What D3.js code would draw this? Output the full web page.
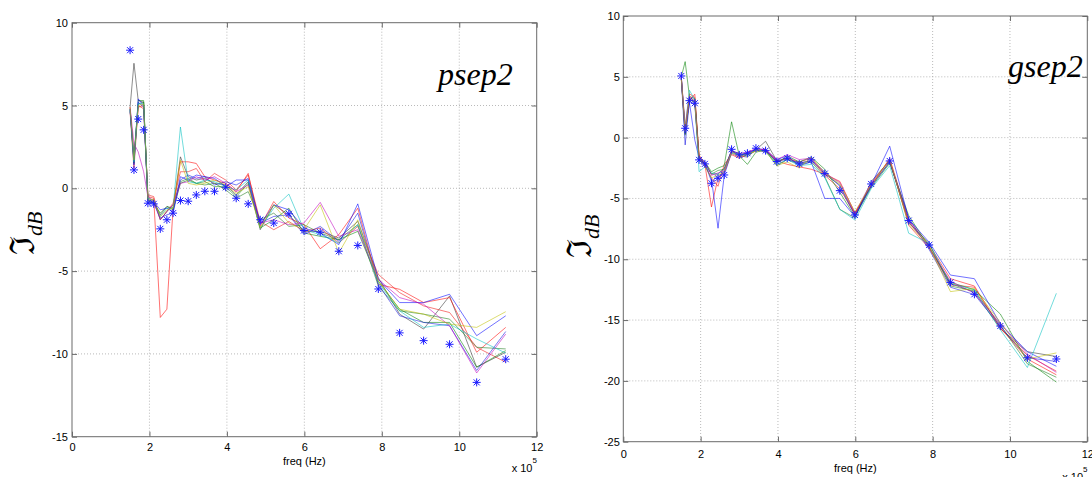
<!DOCTYPE html>
<html><head><meta charset="utf-8">
<script src="https://cdn.jsdelivr.net/npm/d3@7"></script>
<style>body{margin:0;background:#fff} svg{display:block}</style>
</head><body><svg id="c" width="1092" height="477"></svg>
<script>
// frequency (x 1e5 Hz)
const freq = [1.5, 1.6, 1.71, 1.85, 1.96, 2.11, 2.28, 2.45, 2.61, 2.8, 3.0, 3.21, 3.43, 3.68, 3.97, 4.24, 4.55, 4.86, 5.21, 5.6, 5.99, 6.41, 6.89, 7.38, 7.91, 8.46, 9.08, 9.75, 10.45, 11.2];
const xTicks = [0, 2, 4, 6, 8, 10, 12];
const psepTicks = [-15, -10, -5, 0, 5, 10];
const gsepTicks = [-25, -20, -15, -10, -5, 0, 5, 10];
const seriesNames = ["k", "r", "r2", "g", "g2", "b", "b2", "c", "m", "y"];

// psep2 measured (stars)
const psepStars = [8.34, 1.11, 4.18, 3.53, -0.90, -0.94, -2.45, -1.9, -1.5, -0.74, -0.78, -0.40, -0.18, -0.18, 0.06, -0.6, -0.94, -1.9, -2.1, -1.54, -2.55, -2.65, -3.8, -3.45, -6.08, -8.73, -9.2, -9.42, -11.72, -10.32];
// psep2 simulated curves
const psepK  = [4.9, 7.55, 5.3, 5.2, -0.7, -0.8, -1.6, -1.1, -1.2, 1.9, 0.7, 0.5, 0.6, 0.3, 0.2, -0.4, 0.4, -2.5, -1.0, -1.6, -2.6, -2.6, -3.0, -2.0, -5.4, -7.6, -8.5, -6.5, -10.8, -9.9];
const psepR  = [4.9, 1.8, 4.9, 5.0, -0.5, -0.6, -7.8, -7.3, -1.2, 1.6, 1.6, 1.5, 0.7, 0.5, 0.3, -0.2, 0.9, -2.3, -0.8, -1.8, -2.2, -3.65, -2.8, -1.2, -5.8, -6.1, -6.9, -6.6, -9.9, -8.4];
const psepR2 = [4.6, 1.2, 5.0, 4.8, -0.4, -0.5, -1.9, -1.4, -0.9, 1.0, 1.0, 1.2, 0.4, 0.9, 0.5, -0.1, 0.8, -2.0, -2.5, -2.0, -2.6, -2.4, -3.3, -2.3, -5.2, -6.3, -7.1, -7.5, -9.6, -10.5];
const psepG  = [4.8, 1.5, 5.3, 5.3, -0.8, -0.9, -1.5, -1.1, -1.3, 0.3, 0.5, 0.3, 0.4, 0.1, 0.1, -0.5, 0.3, -2.4, -1.9, -1.2, -2.7, -2.9, -3.1, -2.6, -5.6, -7.3, -8.1, -8.1, -10.8, -9.8];
const psepG2 = [4.7, 2.0, 5.1, 5.2, -0.6, -0.7, -1.9, -1.4, -1.0, 0.4, 0.6, 0.3, 0.2, 0.3, -0.1, -0.6, -0.2, -1.9, -1.5, -2.3, -2.2, -2.7, -3.1, -2.2, -5.9, -7.4, -7.6, -7.9, -9.6, -9.7];
const psepB  = [4.8, 1.4, 5.4, 5.0, -0.9, -0.8, -1.3, -1.2, -1.4, 0.7, 0.5, 0.8, 0.7, 0.6, 0.1, 0.5, 0.5, -2.2, -1.0, -1.3, -2.4, -2.7, -3.4, -0.94, -5.5, -6.9, -6.9, -6.4, -8.9, -7.7];
const psepB2 = [4.7, 1.7, 5.2, 4.9, -0.7, -0.9, -1.8, -1.6, -1.5, 0.5, 0.8, 0.6, 0.7, 0.2, 0.4, 0.2, 0.6, -2.1, -1.7, -1.6, -2.8, -2.3, -3.2, -1.5, -5.8, -7.7, -8.1, -8.3, -11.0, -8.65];
const psepC  = [4.8, 1.6, 5.1, 5.1, -0.6, -0.8, -1.7, -1.2, -1.2, 3.7, 0.4, 0.3, 0.5, 0.4, 0.1, -0.1, 0.5, -2.4, -1.2, -0.35, -2.5, -2.8, -3.3, -2.2, -5.7, -7.4, -8.4, -8.2, -9.1, -9.95];
const psepM  = [4.9, 2.7, 2.2, 1.0, -0.5, -0.8, -1.9, -1.4, -1.0, 0.3, 0.4, 0.7, 0.5, 0.7, 0.3, -0.2, 0.2, -2.1, -1.9, -2.2, -2.1, -0.85, -2.9, -2.5, -5.5, -6.6, -7.0, -8.3, -11.15, -8.8];
const psepY  = [4.9, 1.7, 5.0, 5.1, -0.7, -0.7, -1.7, -1.3, -1.2, 1.7, 0.3, 0.2, 0.3, 0.5, 0.2, -0.3, 0.1, -2.4, -1.0, -2.1, -2.5, -1.0, -3.9, -1.9, -5.6, -7.3, -7.6, -8.2, -8.4, -7.45];

// gsep2 measured (stars)
const gsepStars = [5.07, 0.77, 3.04, 2.83, -1.83, -2.16, -3.75, -3.34, -3.07, -0.96, -1.42, -1.28, -0.87, -1.07, -1.97, -1.70, -2.16, -1.83, -2.96, -4.36, -6.36, -3.81, -1.92, -6.82, -8.83, -11.9, -12.88, -15.49, -18.1, -18.2];
// gsep2 simulated curves
const gsepK  = [4.9, 0.3, 3.3, 3.0, -1.8, -2.0, -3.0, -3.0, -2.5, -1.1, -1.5, -1.6, -1.0, -0.3, -1.9, -1.7, -2.1, -1.9, -3.0, -3.9, -6.3, -3.9, -2.0, -6.9, -9.0, -12.0, -12.7, -15.7, -17.6, -18.0];
const gsepR  = [4.8, 0.6, 3.1, 3.57, -1.8, -2.2, -5.7, -3.3, -2.9, -1.3, -1.6, -1.2, -1.0, -1.1, -1.9, -2.2, -2.4, -2.6, -3.0, -3.6, -6.2, -4.0, -1.7, -6.8, -8.8, -11.6, -12.2, -15.6, -18.2, -19.5];
const gsepR2 = [5.0, 0.9, 3.6, 3.3, -1.4, -2.3, -3.3, -4.0, -2.2, -1.4, -1.7, -1.4, -1.1, -0.9, -2.0, -1.7, -2.0, -1.7, -3.1, -4.2, -6.3, -3.8, -1.8, -7.2, -9.1, -12.1, -12.3, -15.7, -17.9, -19.2];
const gsepG  = [5.0, 6.25, 3.4, 3.2, -1.6, -2.0, -2.8, -2.5, -2.3, 1.3, -1.5, -2.2, -1.2, -1.0, -2.1, -1.5, -2.0, -1.6, -2.6, -4.5, -6.5, -4.1, -2.1, -6.4, -9.0, -11.9, -12.5, -14.5, -18.4, -20.1];
const gsepG2 = [4.9, 0.2, 3.2, 2.9, -1.9, -2.1, -3.0, -2.7, -2.6, -1.1, -1.3, -1.4, -1.0, -1.1, -2.3, -1.8, -2.2, -2.0, -3.2, -5.9, -6.6, -3.6, -1.9, -7.0, -8.7, -12.2, -12.6, -15.4, -18.6, -19.7];
const gsepB  = [5.0, 0.4, 2.9, -0.2, -1.7, -2.2, -3.4, -7.45, -3.1, -1.2, -1.4, -1.3, -0.9, -1.0, -1.8, -1.5, -2.3, -2.0, -5.0, -5.0, -6.5, -3.9, -0.7, -6.7, -8.6, -11.3, -11.6, -15.3, -17.6, -18.8];
const gsepB2 = [4.9, -0.6, 3.0, 2.7, -1.9, -2.1, -3.6, -3.2, -2.8, -1.0, -1.5, -1.3, -1.0, -1.2, -1.9, -1.8, -2.1, -1.9, -2.8, -4.0, -6.4, -4.0, -2.0, -6.6, -9.2, -12.3, -12.9, -15.5, -18.1, -18.4];
const gsepC  = [4.9, 0.8, 3.9, 3.1, -2.8, -2.4, -2.9, -3.0, -2.6, -1.3, -1.4, -1.5, -1.0, -1.1, -2.2, -1.8, -2.3, -2.2, -3.3, -5.9, -6.77, -4.2, -2.3, -7.86, -8.7, -12.0, -12.5, -15.8, -18.9, -12.8];
const gsepM  = [5.0, 0.7, 3.4, 3.0, -1.6, -2.0, -3.1, -2.9, -2.7, -1.1, -1.3, -1.2, -0.9, -1.0, -1.8, -1.4, -1.8, -1.7, -2.9, -3.7, -6.2, -3.7, -1.9, -6.9, -9.0, -11.8, -12.8, -15.3, -17.8, -19.3];
const gsepY  = [4.9, 0.5, 3.2, 2.8, -1.7, -2.4, -3.3, -3.1, -2.8, -1.2, -1.5, -1.4, -1.1, -1.1, -2.3, -2.0, -2.5, -1.6, -2.9, -3.8, -6.1, -3.9, -1.8, -7.1, -8.9, -12.66, -12.4, -15.2, -18.2, -17.7];

const colorOf = {k:"#303030", r:"#ff0000", r2:"#ee1010", g:"#008000", g2:"#1a7a1a", b:"#0000ff", b2:"#1010e0", c:"#00c0c0", m:"#c000c0", y:"#c0c000"};

const svg = d3.select("#c");

function panel(o) {
  const x = d3.scaleLinear().domain([0, 12]).range([o.x0, o.x1]);
  const y = d3.scaleLinear().domain([o.ticks[0], o.ticks[o.ticks.length - 1]]).range([o.y1, o.y0]);
  const g = svg.append("g");
  // grid
  g.append("g").selectAll("line").data(xTicks.slice(1, -1)).join("line")
    .attr("x1", d => x(d)).attr("x2", d => x(d)).attr("y1", o.y0).attr("y2", o.y1)
    .attr("stroke", "#a8a8a8").attr("stroke-width", 0.8).attr("stroke-dasharray", "1,2");
  g.append("g").selectAll("line").data(o.ticks.slice(1, -1)).join("line")
    .attr("y1", d => y(d)).attr("y2", d => y(d)).attr("x1", o.x0).attr("x2", o.x1)
    .attr("stroke", "#a8a8a8").attr("stroke-width", 0.8).attr("stroke-dasharray", "1,2");
  // curves
  const line = d3.line().x((d, i) => x(freq[i])).y(d => y(d));
  o.series.forEach((s, i) => {
    g.append("path").datum(s).attr("d", line).attr("fill", "none")
      .attr("stroke", colorOf[seriesNames[i]]).attr("stroke-width", 0.9).attr("stroke-opacity", 0.62);
  });
  // stars
  const star = "M-4,0H4M0,-4V4M-3,-3L3,3M-3,3L3,-3";
  g.append("g").selectAll("path").data(o.stars).join("path")
    .attr("transform", (d, i) => `translate(${x(freq[i])},${y(d)})`)
    .attr("d", star).attr("stroke", "#1a1aff").attr("stroke-width", 1).attr("fill", "none");
  // axes
  const fmt = d => String(d).replace("\u2212", "-");
  const axB = d3.axisBottom(x).tickValues(xTicks).tickSizeInner(-5).tickSizeOuter(0).tickPadding(o.xpad).tickFormat(fmt);
  const axT = d3.axisTop(x).tickValues(xTicks).tickSizeInner(-5).tickSizeOuter(0).tickFormat("");
  const axL = d3.axisLeft(y).tickValues(o.ticks).tickSizeInner(-5).tickSizeOuter(0).tickPadding(o.ypad).tickFormat(fmt);
  const axR = d3.axisRight(y).tickValues(o.ticks).tickSizeInner(-5).tickSizeOuter(0).tickFormat("");
  const styleAx = sel => {
    sel.selectAll("path,line").attr("stroke", "#6a6a6a");
    sel.selectAll("text").attr("fill", "#000").style("font-family", "Liberation Sans, Arial, sans-serif").style("font-size", "11px");
  };
  g.append("g").attr("transform", `translate(0,${o.y1})`).call(axB).call(styleAx).call(s => s.select(".domain").remove());
  g.append("g").attr("transform", `translate(0,${o.y0})`).call(axT).call(styleAx).call(s => s.select(".domain").remove());
  g.append("g").attr("transform", `translate(${o.x0},0)`).call(axL).call(styleAx).call(s => s.select(".domain").remove());
  g.append("g").attr("transform", `translate(${o.x1},0)`).call(axR).call(styleAx).call(s => s.select(".domain").remove());
  g.selectAll("g").attr("font-family", null).attr("font-size", null);
  g.append("rect").attr("x", o.x0).attr("y", o.y0).attr("width", o.x1 - o.x0).attr("height", o.y1 - o.y0)
    .attr("fill", "none").attr("stroke", "#6a6a6a").attr("stroke-width", 1);
  // title
  g.append("text").attr("x", o.tx).attr("y", o.ty).text(o.title)
    .style("font-family", "Liberation Serif, Times New Roman, serif").style("font-style", "italic").style("font-size", "32px");
  // x label
  g.append("text").attr("x", (o.x0 + o.x1) / 2).attr("y", o.xly).attr("text-anchor", "middle").text("freq (Hz)")
    .style("font-family", "Liberation Sans, Arial, sans-serif").style("font-size", "11px");
  const ex = g.append("text").attr("x", o.x1 - 25).attr("y", o.exy)
    .style("font-family", "Liberation Sans, Arial, sans-serif").style("font-size", "11px");
  ex.append("tspan").text("x 10");
  ex.append("tspan").attr("dy", -9).style("font-size", "8px").text("5");
  // y label
  const yl = g.append("text").attr("transform", `translate(${o.ylx},${o.yly}) rotate(-90)`)
    .style("font-family", "DejaVu Serif, serif");
  yl.append("tspan").style("font-size", "34px").text("\u2111");
  yl.append("tspan").attr("dy", 8).style("font-size", "22px").style("font-style", "italic")
    .style("font-family", "Liberation Serif, Times New Roman, serif").text("dB");
}

panel({x0: 72, x1: 536.7, y0: 22.7, y1: 436.7, ticks: psepTicks, xpad: 6.5, ypad: 4,
  series: [psepK, psepR, psepR2, psepG, psepG2, psepB, psepB2, psepC, psepM, psepY], stars: psepStars,
  title: "psep2", tx: 438, ty: 85, xly: 465, exy: 472, ylx: 34, yly: 255});
panel({x0: 623.3, x1: 1087.3, y0: 16, y1: 441.7, ticks: gsepTicks, xpad: 8.5, ypad: 3.5,
  series: [gsepK, gsepR, gsepR2, gsepG, gsepG2, gsepB, gsepB2, gsepC, gsepM, gsepY], stars: gsepStars,
  title: "gsep2", tx: 1008, ty: 77, xly: 472, exy: 481, ylx: 591, yly: 258});
</script></body></html>
